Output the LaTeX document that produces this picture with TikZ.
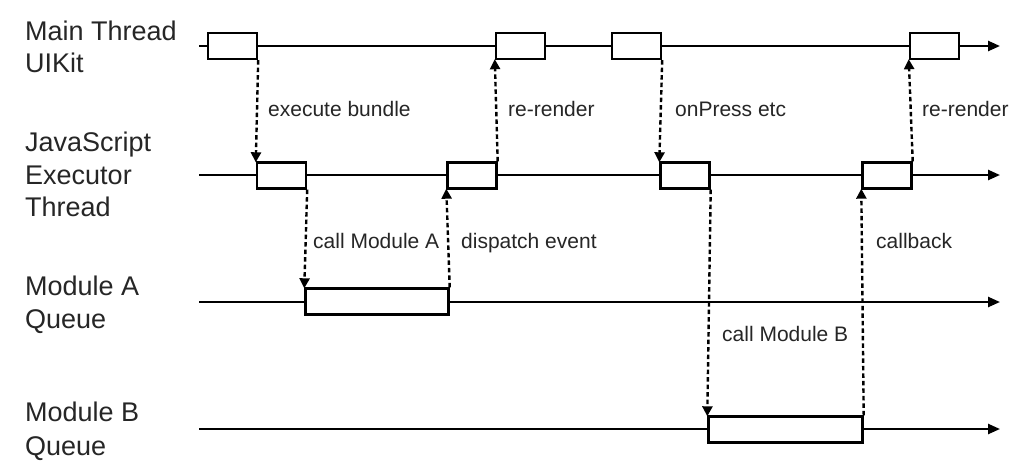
\documentclass[tikz,border=0pt]{standalone}
\usepackage{fontspec}
\setmainfont{Liberation Sans}
\usetikzlibrary{arrows.meta}
\definecolor{txt}{RGB}{38,38,38}
\tikzset{
  blk/.style={draw=black, fill=white, line width=2.4pt, inner sep=0pt, minimum height=26pt},
  tline/.style={line width=2.4pt, -{Triangle[length=12pt,width=10pt]}},
  call/.style={line width=2.4pt, dash pattern=on 4.5pt off 3pt, -{Triangle[length=10pt,width=10pt]}, shorten >=-1pt},
  lane/.style={anchor=base west, font=\fontsize{27}{32.5}\selectfont, text=txt, inner sep=0pt, align=left},
  lbl/.style={anchor=base west, font=\fontsize{21}{24}\selectfont, text=txt, inner sep=0pt}
}
\begin{document}
\begin{tikzpicture}[x=1pt,y=-1pt]
\useasboundingbox (0,0) rectangle (1024,472);
\fill[white] (0,0) rectangle (1024,472);
% lane labels
\node[lane] (l1a) at (25,40) {Main Thread};
\node[lane] (l1b) at (25,72.5) {UIKit};
\node[lane] (l2a) at (25,151.5) {JavaScript};
\node[lane] (l2b) at (25,184.5) {Executor};
\node[lane] (l2c) at (25,216.5) {Thread};
\node[lane] (l3a) at (25,295) {Module A};
\node[lane] (l3b) at (25,328) {Queue};
\node[lane] (l4a) at (25,421.5) {Module B};
\node[lane] (l4b) at (25,455) {Queue};
% timelines
\coordinate (s1) at (199,46); \coordinate (e1) at (1000,46);
\coordinate (s2) at (199,175); \coordinate (e2) at (1000,175);
\coordinate (s3) at (199,302); \coordinate (e3) at (1000,302);
\coordinate (s4) at (199,429); \coordinate (e4) at (1000,429);
\draw[tline] (s1) -- (e1);
\draw[tline] (s2) -- (e2);
\draw[tline] (s3) -- (e3);
\draw[tline] (s4) -- (e4);
% boxes main thread
\node[blk, minimum width=49pt] (m1) at (232.5,46) {};
\node[blk, minimum width=49pt] (m2) at (520.5,46) {};
\node[blk, minimum width=49pt] (m3) at (636.5,46) {};
\node[blk, minimum width=49pt] (m4) at (934.5,46) {};
% boxes js thread
\node[blk, minimum width=49pt] (j1) at (281.5,175.5) {};
\node[blk, minimum width=49pt] (j2) at (472,175.5) {};
\node[blk, minimum width=49pt] (j3) at (685,175.5) {};
\node[blk, minimum width=49pt] (j4) at (887,175.5) {};
% module boxes
\node[blk, minimum width=143pt] (a1) at (377,301.5) {};
\node[blk, minimum width=154pt] (b1) at (785.5,429.5) {};
% calls
\draw[call] (m1.south east) -- (j1.north west);
\draw[call] (j2.north east) -- (m2.south west);
\draw[call] (m3.south east) -- (j3.north west);
\draw[call] (j4.north east) -- (m4.south west);
\draw[call] (j1.south east) -- (a1.north west);
\draw[call] (a1.north east) -- (j2.south west);
\draw[call] (j3.south east) -- (b1.north west);
\draw[call] (b1.north east) -- (j4.south west);
% labels
\node[lbl] (t1) at (268,116) {execute bundle};
\node[lbl] (t2) at (508,116) {re-render};
\node[lbl] (t3) at (675,116) {onPress etc};
\node[lbl] (t4) at (922,116) {re-render};
\node[lbl] (t5) at (313,248) {call Module A};
\node[lbl] (t6) at (461,248) {dispatch event};
\node[lbl] (t7) at (722,341) {call Module B};
\node[lbl] (t8) at (876,248) {callback};
\end{tikzpicture}
\end{document}
